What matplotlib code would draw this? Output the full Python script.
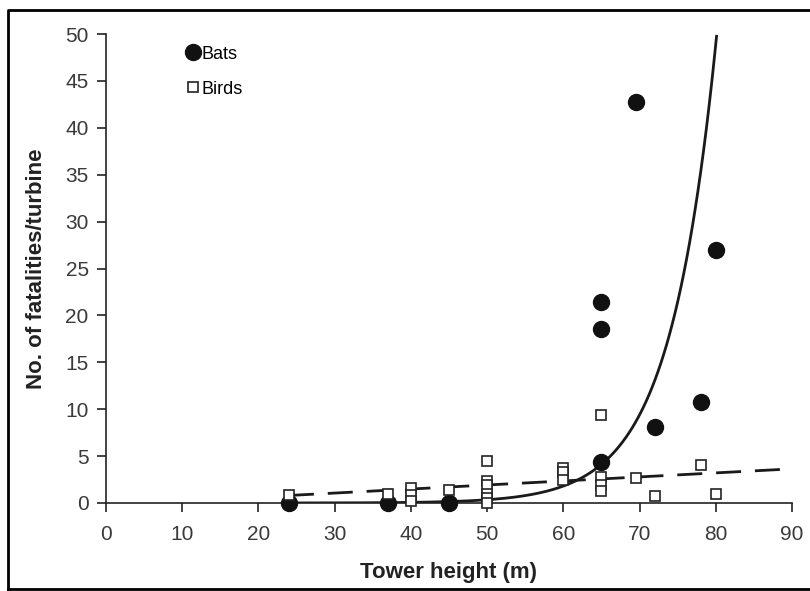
import numpy as np
import matplotlib
matplotlib.use("Agg")
import matplotlib.pyplot as plt
from matplotlib.lines import Line2D

plt.rcParams["font.family"] = ["Liberation Sans", "DejaVu Sans"]

# Datos
bat_height = [24, 37, 45, 65, 65, 65, 69.5, 72, 78, 80]
bat_fatal = [0, 0, 0, 4.4, 18.5, 21.4, 42.7, 8.1, 10.8, 27.0]

bird_height = [24, 37, 40, 40, 40, 45, 50, 50, 50, 50, 50, 50,
               60, 60, 60, 65, 65, 65, 65, 69.5, 72, 78, 80]
bird_fatal = [0.8, 1.0, 1.6, 0.9, 0.2, 1.4, 4.5, 2.3, 1.9, 1.0, 0.5, 0.0,
              3.7, 3.3, 2.4, 9.4, 2.8, 1.9, 1.3, 2.7, 0.7, 4.0, 1.0]

# Parametros de las curvas de ajuste
BAT_A, BAT_B, BAT_X0 = 4.4, 0.165, 65.4   # exponencial
BIRD_M, BIRD_C = 0.043, -0.23             # lineal

x_ticks = np.arange(0, 91, 10)
y_ticks = np.arange(0, 51, 5)

fig = plt.figure(figsize=(8.1, 5.91), dpi=100)
ax = fig.add_axes([106 / 810, 1 - 503 / 591, 686 / 810, 469 / 591])

# curvas de ajuste
xb = np.linspace(24, 80.1, 300)
ax.plot(xb, BAT_A * np.exp(BAT_B * (xb - BAT_X0)), color="#1a1a1a", lw=2, zorder=2)
xr = np.linspace(24, 90, 50)
ax.plot(xr, BIRD_M * xr + BIRD_C, color="#1a1a1a", lw=2, dashes=(9, 5), zorder=2)

ax.plot(bat_height, bat_fatal, "o", ms=11.5, color="#111111", ls="none",
        clip_on=False, zorder=3, label="Bats")
ax.plot(bird_height, bird_fatal, "s", ms=7.5, mfc="white", mec="#222222", mew=1.2,
        ls="none", clip_on=False, zorder=4, label="Birds")

ax.set_xlim(0, 90)
ax.set_ylim(0, 50)
ax.set_xticks(x_ticks)
ax.set_yticks(y_ticks)
for s in ["top", "right"]:
    ax.spines[s].set_visible(False)
for s in ["left", "bottom"]:
    ax.spines[s].set_linewidth(1.2)
    ax.spines[s].set_color("#222222")
ax.tick_params(direction="out", length=6.5, width=1.2, color="#222222",
               labelsize=15, labelcolor="#3a3a3a")
ax.tick_params(axis="x", pad=9)
ax.tick_params(axis="y", pad=6)

ax.set_xlabel("Tower height (m)", fontsize=16, fontweight="bold", color="#222222")
ax.set_ylabel("No. of fatalities/turbine", fontsize=16, fontweight="bold",
              color="#222222")
ax.xaxis.set_label_coords(0.5, -0.125)
ax.yaxis.set_label_coords(-0.102, 0.5)
ax.yaxis.label.set_va("center")

ax.legend(loc="upper left", bbox_to_anchor=(0.117, 0.975), frameon=False,
          fontsize=13, handlelength=0.7, handletextpad=0.15, labelspacing=1.0,
          borderpad=0, borderaxespad=0)

# marco de la figura
fig.add_artist(Line2D([8 / 810, 8 / 810, 1.0], [1 - 589 / 591, 1 - 10 / 591, 1 - 10 / 591],
                      color="black", lw=2))
fig.add_artist(Line2D([8 / 810, 1.0], [1 - 589 / 591, 1 - 589 / 591], color="black", lw=2))

fig.savefig("out.png", dpi=100)
